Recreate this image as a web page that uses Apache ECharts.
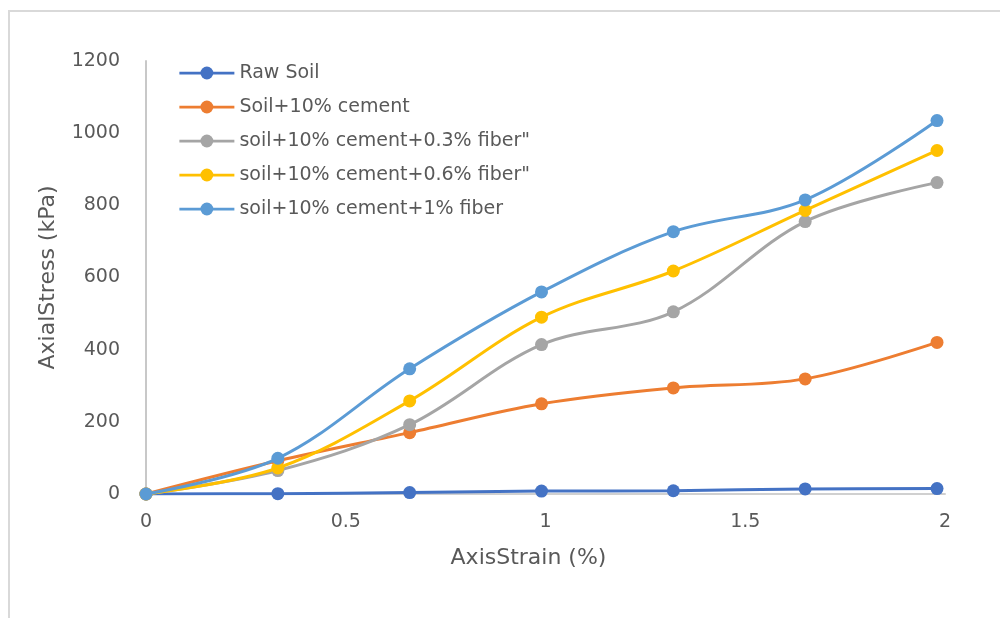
<!DOCTYPE html>
<html>
<head>
<meta charset="utf-8">
<script src="https://cdn.jsdelivr.net/npm/echarts@6/dist/echarts.min.js"></script>
<style>
html,body{margin:0;padding:0;background:#fff;}
#c{width:1000px;height:618px;}
</style>
</head>
<body>
<div id="c"></div>
<script>
const strain = [0, 0.33, 0.66, 0.99, 1.32, 1.65, 1.98];
const rawSoil = [0, 1, 4, 8, 9, 14, 15];
const cement10 = [0, 92, 170, 250, 294, 319, 420];
const fiber03 = [0, 65, 192, 414, 505, 755, 863];
const fiber06 = [0, 72, 258, 490, 618, 786, 952];
const fiber1 = [0, 99, 347, 560, 727, 815, 1035];
const seriesNames = ["Raw Soil", "Soil+10% cement", "soil+10% cement+0.3% fiber\"", "soil+10% cement+0.6% fiber\"", "soil+10% cement+1% fiber"];
const seriesColors = ["#4472C4", "#ED7D31", "#A5A5A5", "#FFC000", "#5B9BD5"];
const seriesData = [rawSoil, cement10, fiber03, fiber06, fiber1];

const FONT = "DejaVu Sans";
const chart = echarts.init(document.getElementById('c'));
chart.setOption({
  animation: false,
  backgroundColor: '#fff',
  graphic: [{
    type: 'polyline', silent: true,
    shape: { points: [[9, 640], [9, 11], [1010, 11]] },
    style: { stroke: '#d9d9d9', lineWidth: 2, fill: null }
  }],
  grid: { left: 146, right: 55, top: 61, bottom: 124 },
  legend: {
    orient: 'vertical', left: 173, top: 58,
    itemWidth: 55, itemHeight: 16, itemGap: 14,
    lineStyle: { width: 2.75 },
    textStyle: { fontFamily: FONT, fontSize: 19, color: '#595959', lineHeight: 20 },
    data: seriesNames
  },
  xAxis: {
    type: 'value', min: 0, max: 2, interval: 0.5,
    name: 'AxisStrain (%)', nameLocation: 'middle', nameGap: 53,
    nameTextStyle: { fontFamily: FONT, fontSize: 22, color: '#595959', padding: [0, 34, 0, 0] },
    axisLine: { show: true, lineStyle: { color: '#d0d0d0', width: 2 } },
    axisTick: { show: false },
    splitLine: { show: false },
    axisLabel: { fontFamily: FONT, fontSize: 19, color: '#595959', margin: 19 }
  },
  yAxis: {
    type: 'value', min: 0, max: 1200, interval: 200,
    name: 'AxialStress (kPa)', nameLocation: 'middle', nameGap: 87,
    nameTextStyle: { fontFamily: FONT, fontSize: 22, color: '#595959' },
    axisLine: { show: true, lineStyle: { color: '#c8c8c8', width: 2 } },
    axisTick: { show: false },
    splitLine: { show: false },
    axisLabel: { fontFamily: FONT, fontSize: 19, color: '#595959', margin: 26, formatter: v => String(v) }
  },
  series: seriesNames.map((n, i) => ({
    name: n, type: 'line', smooth: 0.35,
    data: strain.map((x, j) => [x, seriesData[i][j]]),
    symbol: 'circle', symbolSize: 13,
    lineStyle: { color: seriesColors[i], width: 3 },
    itemStyle: { color: seriesColors[i] },
    z: 2 + i
  }))
});
</script>
</body>
</html>
